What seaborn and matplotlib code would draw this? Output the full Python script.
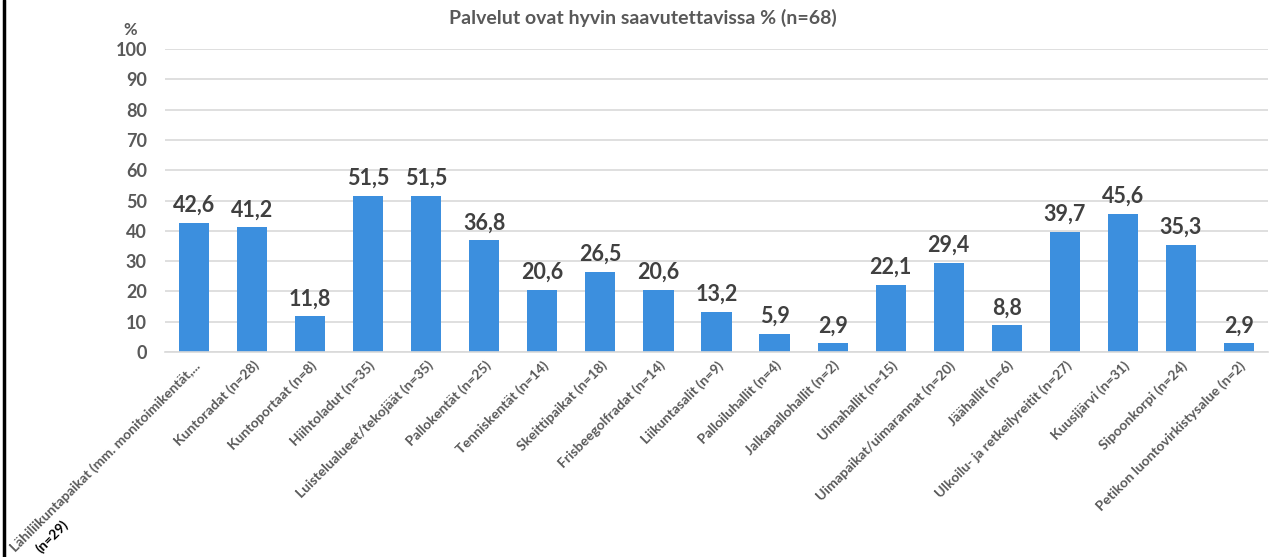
import matplotlib
matplotlib.use("Agg")
import matplotlib.pyplot as plt
from matplotlib.lines import Line2D
import seaborn as sns
import pandas as pd

categories = [
    "Lähiliikuntapaikat (mm. monitoimikentät,...",
    "Kuntoradat (n=28)",
    "Kuntoportaat (n=8)",
    "Hiihtoladut (n=35)",
    "Luistelualueet/tekojäät (n=35)",
    "Pallokentät (n=25)",
    "Tenniskentät (n=14)",
    "Skeittipaikat (n=18)",
    "Frisbeegolfradat (n=14)",
    "Liikuntasalit (n=9)",
    "Palloiluhallit (n=4)",
    "Jalkapallohallit (n=2)",
    "Uimahallit (n=15)",
    "Uimapaikat/uimarannat (n=20)",
    "Jäähallit (n=6)",
    "Ulkoilu- ja retkeilyreitit (n=27)",
    "Kuusijärvi (n=31)",
    "Sipoonkorpi (n=24)",
    "Petikon luontovirkistysalue (n=2)",
]
values = [42.6, 41.2, 11.8, 51.5, 51.5, 36.8, 20.6, 26.5, 20.6, 13.2,
          5.9, 2.9, 22.1, 29.4, 8.8, 39.7, 45.6, 35.3, 2.9]
first_label_extra = "(n=29)"
title = "Palvelut ovat hyvin saavutettavissa % (n=68)"
yticks = list(range(0, 101, 10))

sns.set_theme(style="white")
plt.rcParams["font.family"] = ["Lato", "DejaVu Sans"]

GRAY = "#595959"
BLUE = "#3C8FDE"

df = pd.DataFrame({"cat": categories, "val": values})

fig = plt.figure(figsize=(12.78, 5.57), dpi=100)
ax = fig.add_axes([165 / 1278, 1 - 352 / 557, (1268 - 165) / 1278, (352 - 49) / 557])

sns.barplot(data=df, x="cat", y="val", color=BLUE, saturation=1, width=0.52,
            ax=ax, edgecolor="none")

ax.set_xlim(-0.5, len(categories) - 0.5)
ax.set_ylim(0, 100)
ax.set_yticks(yticks)
ax.set_yticklabels([str(t) for t in yticks], color=GRAY, fontsize=13, fontweight="bold")
ax.yaxis.grid(True, color="#D9D9D9", linewidth=1.2)
ax.set_axisbelow(True)
for s in ["top", "right", "left"]:
    ax.spines[s].set_visible(False)
ax.spines["bottom"].set_color("#D9D9D9")
ax.spines["bottom"].set_linewidth(1.2)
ax.tick_params(axis="y", length=0, pad=13)
ax.tick_params(axis="x", length=0, pad=5)
ax.set_xlabel("")
ax.set_ylabel("")

ax.set_xticks(range(len(categories)))
ax.set_xticklabels(categories, rotation=45, ha="right", rotation_mode="anchor",
                   color=GRAY, fontsize=10, fontweight="bold")

# second line of the first category label
ax.annotate(first_label_extra, xy=(0, 0), xycoords="data",
            xytext=(-110, -145), textcoords="offset points",
            rotation=45, ha="left", va="baseline", rotation_mode="anchor",
            color="black", fontsize=10, fontweight="bold", annotation_clip=False)

for i, v in enumerate(values):
    ax.annotate(f"{v:.1f}".replace(".", ","), xy=(i, v), xytext=(0, 5),
                textcoords="offset points", ha="center", va="bottom",
                color="#404040", fontsize=15.5, fontweight="bold")

ax.annotate("%", xy=(0, 100), xycoords=("axes fraction", "data"),
            xytext=(-25, 8), textcoords="offset points", ha="center",
            va="bottom", color=GRAY, fontsize=12, fontweight="bold",
            annotation_clip=False)

fig.text(643 / 1278, 1 - 18 / 557, title, ha="center", va="center",
         color=GRAY, fontsize=14, fontweight="bold")

fig.add_artist(Line2D([4 / 1278, 4 / 1278], [0, 1], transform=fig.transFigure,
                      color="black", linewidth=2.5))

fig.savefig("out.png", dpi=100)
